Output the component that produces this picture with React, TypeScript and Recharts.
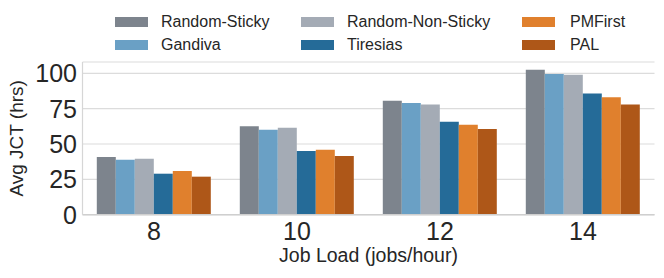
import { Bar, BarChart, CartesianGrid, XAxis, YAxis } from "recharts";

const loads = ["8", "10", "12", "14"];

const randomSticky = [40.8, 62.5, 80.6, 102.5];
const gandiva = [38.9, 60.1, 79.0, 99.5];
const randomNonSticky = [39.6, 61.5, 78.0, 99.0];
const tiresias = [29.0, 45.0, 65.8, 85.8];
const pmFirst = [30.9, 46.0, 63.6, 83.0];
const pal = [26.9, 41.5, 60.6, 78.0];

const yTicks = [0, 25, 50, 75, 100];

const series = [
  { key: "rs", name: "Random-Sticky", values: randomSticky, color: "#7d848d" },
  { key: "gandiva", name: "Gandiva", values: gandiva, color: "#6aa0c5" },
  { key: "rns", name: "Random-Non-Sticky", values: randomNonSticky, color: "#a4abb5" },
  { key: "tiresias", name: "Tiresias", values: tiresias, color: "#256b98" },
  { key: "pmfirst", name: "PMFirst", values: pmFirst, color: "#e0802d" },
  { key: "pal", name: "PAL", values: pal, color: "#ae5718" },
];

const data = loads.map((load, i) => {
  const row: Record<string, string | number> = { load };
  series.forEach((s) => (row[s.key] = s.values[i]));
  return row;
});

const FONT = "'Liberation Sans', Arial, sans-serif";
const INK = "#262626";

// legend laid out column-major, 2 rows x 3 columns
const legendCols = [
  { patchX: 115, textX: 161 },
  { patchX: 301, textX: 347 },
  { patchX: 522, textX: 570 },
];
const legendRows = [22, 45];

export default function App() {
  return (
    <div style={{ position: "absolute", left: 0, top: 0, width: 664, height: 278, background: "#fff", fontFamily: FONT }}>
      <BarChart
        width={664}
        height={278}
        data={data}
        margin={{ top: 62, right: 9.5, left: 0, bottom: 0 }}
        barCategoryGap="10%"
        barGap={0}
      >
        <CartesianGrid horizontal vertical={false} stroke="#dcdcdc" strokeWidth={1.2} />
        <XAxis
          dataKey="load"
          height={63.3}
          tickLine={false}
          tickSize={0}
          tickMargin={8}
          axisLine={{ stroke: "#cfcfcf", strokeWidth: 1.6 }}
          tick={{ fontSize: 25, fill: INK, fontFamily: FONT }}
          label={{
            content: ({ viewBox }: any) => (
              <text
                x={viewBox.x + viewBox.width / 2}
                y={262}
                textAnchor="middle"
                fontSize={19.5}
                fill={INK}
                fontFamily={FONT}
              >
                Job Load (jobs/hour)
              </text>
            ),
          }}
        />
        <YAxis
          width={82.5}
          domain={[0, 108]}
          ticks={yTicks}
          tickLine={false}
          tickSize={0}
          tickMargin={5.5}
          axisLine={{ stroke: "#d6d6d6", strokeWidth: 1.2 }}
          tick={{ fontSize: 25, fill: INK, fontFamily: FONT }}
          label={{
            content: ({ viewBox }: any) => {
              const cy = viewBox.y + viewBox.height / 2;
              return (
                <text
                  x={23}
                  y={cy}
                  transform={`rotate(-90, 23, ${cy})`}
                  textAnchor="middle"
                  fontSize={19}
                  fill={INK}
                  fontFamily={FONT}
                >
                  Avg JCT (hrs)
                </text>
              );
            },
          }}
        />
        {series.map((s) => (
          <Bar key={s.key} dataKey={s.key} name={s.name} fill={s.color} isAnimationActive={false} />
        ))}
      </BarChart>
      {series.map((s, i) => {
        const col = legendCols[Math.floor(i / 2)];
        const cy = legendRows[i % 2];
        return (
          <div key={s.key}>
            <div
              style={{
                position: "absolute",
                left: col.patchX,
                top: cy - 5,
                width: 33,
                height: 10,
                background: s.color,
              }}
            />
            <div
              style={{
                position: "absolute",
                left: col.textX,
                top: cy - 10,
                height: 20,
                lineHeight: "20px",
                fontSize: 16,
                color: INK,
                whiteSpace: "nowrap",
              }}
            >
              {s.name}
            </div>
          </div>
        );
      })}
    </div>
  );
}
